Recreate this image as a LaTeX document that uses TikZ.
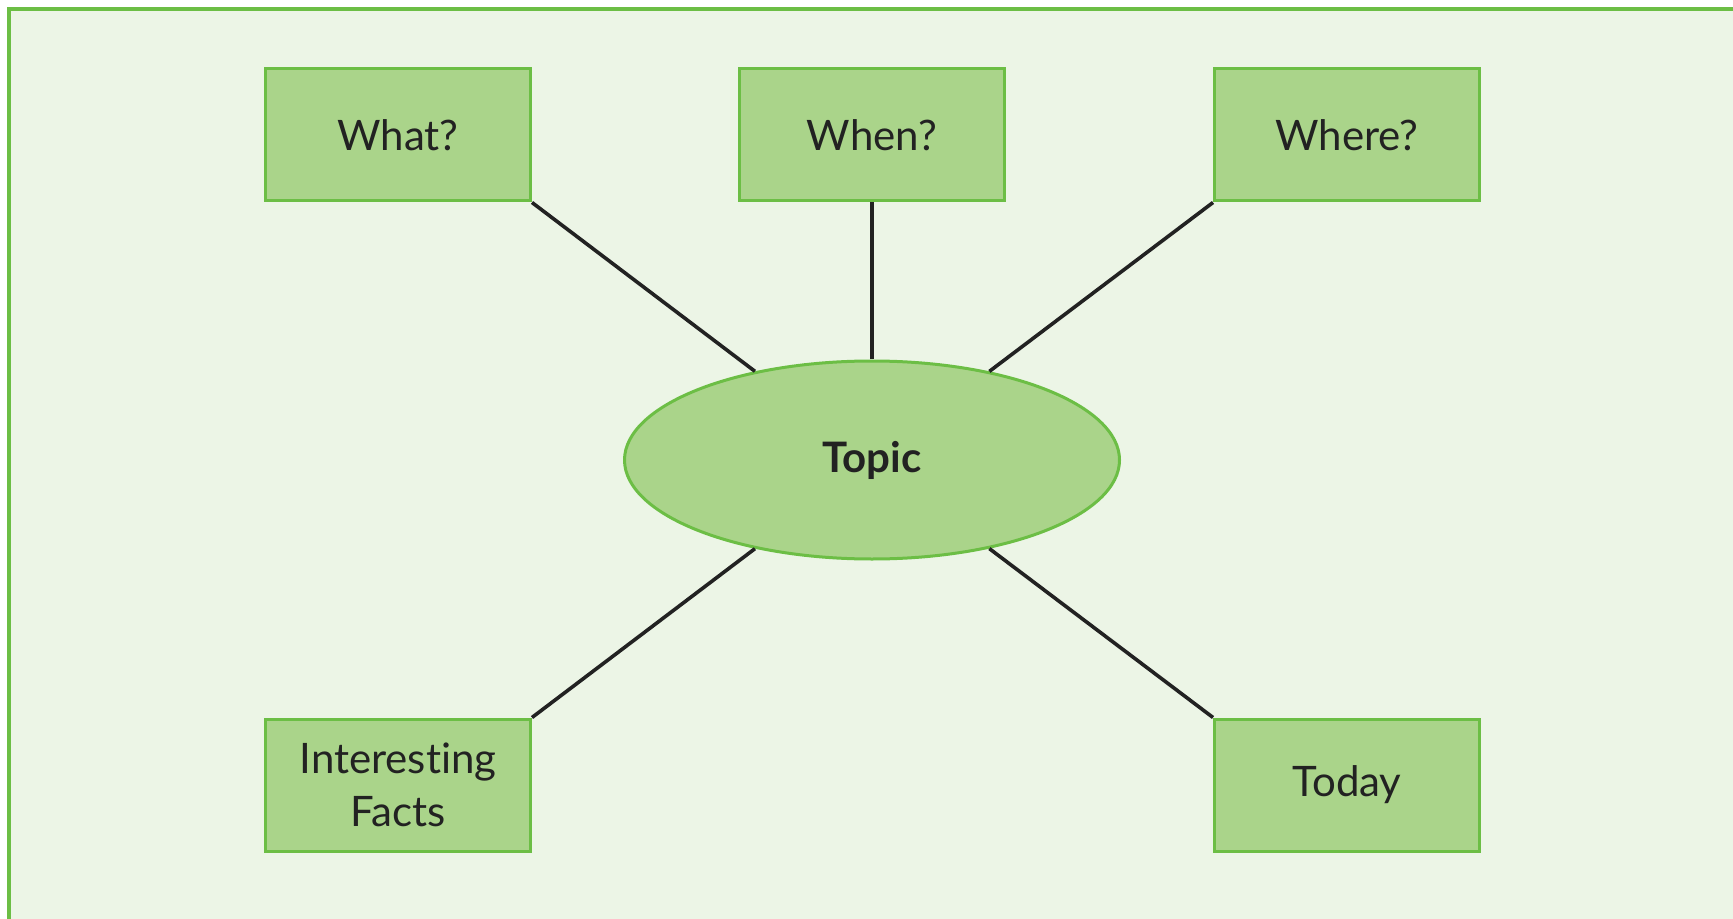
\documentclass[tikz,border=0pt]{standalone}
\usepackage{fontspec}
\setmainfont{Lato}[RawFeature={-liga;-dlig;-clig}]
\usetikzlibrary{shapes.geometric}
\usetikzlibrary{positioning}
\usepackage{xcolor}

\definecolor{leafgreen}{HTML}{6CBE45}
\definecolor{boxgreen}{HTML}{AAD48A}
\definecolor{paleback}{HTML}{ECF5E6}
\definecolor{inkdark}{HTML}{222222}

\tikzset{
  qbox/.style={rectangle,draw=leafgreen,fill=boxgreen,line width=1.5pt,
    minimum width=132.5pt,minimum height=66pt,align=center,inner sep=0pt},
  spoke/.style={draw=inkdark,line width=1.8pt}
}

\begin{document}
\begin{tikzpicture}[x=0.5pt,y=-0.5pt,font=\fontsize{21}{26.5}\selectfont,text=inkdark]
\useasboundingbox (0,0) rectangle (1733,919);
\fill [white] (0,0) rectangle (1733,919);
\begin{scope}
\clip (0,0) rectangle (1733,919);
\draw [leafgreen,line width=1.9pt,fill=paleback] (9,9) rectangle (1780,960);
\end{scope}

\node [ellipse,draw=leafgreen,fill=boxgreen,line width=1.5pt,minimum width=247.5pt,minimum height=99pt] (topic) at (872,460) {\textbf{Topic}};

\node [qbox,above=78.5pt,at=(topic.north)] (when) {When?};
\node [qbox,left=103pt,at=(when.west)] (what) {What?};
\node [qbox,right=103.5pt,at=(when.east)] (where) {Where?};
\node [qbox,below=257.5pt,at=(what.south)] (facts) {Interesting\\Facts};
\node [qbox,below=257.5pt,at=(where.south)] (today) {Today};

\draw [spoke] (topic) -- (what.south east);
\draw [spoke] (topic) -- (when);
\draw [spoke] (topic) -- (where.south west);
\draw [spoke] (topic) -- (facts.north east);
\draw [spoke] (topic) -- (today.north west);
\end{tikzpicture}
\end{document}
